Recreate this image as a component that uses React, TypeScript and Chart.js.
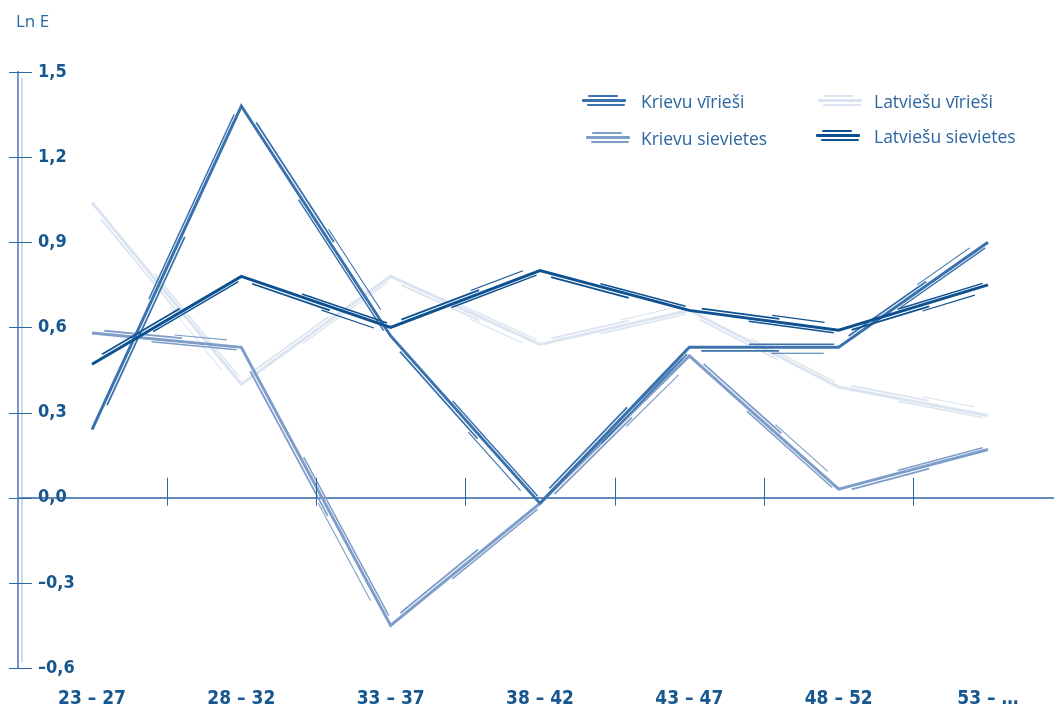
import React, { useEffect, useRef } from "react";
import { Chart, registerables } from "chart.js";

Chart.register(...registerables);

const categories = ["23 – 27", "28 – 32", "33 – 37", "38 – 42", "43 – 47", "48 – 52", "53 – …"];
const yTicks = [-0.6, -0.3, 0, 0.3, 0.6, 0.9, 1.2, 1.5];

const krievuVirieSi = [0.24, 1.38, 0.57, -0.02, 0.53, 0.53, 0.9];
const krievuSievietes = [0.58, 0.53, -0.45, -0.02, 0.5, 0.03, 0.17];
const latviesuVirieSi = [1.04, 0.4, 0.78, 0.54, 0.66, 0.39, 0.29];
const latviesuSievietes = [0.47, 0.78, 0.6, 0.8, 0.66, 0.59, 0.75];

const seriesNames = ["Krievu vīrieši", "Krievu sievietes", "Latviešu vīrieši", "Latviešu sievietes"];
const seriesColors = ["#3a72ad", "#7e9dc9", "#dbe4f0", "#0e5191"];
const seriesValues = [krievuVirieSi, krievuSievietes, latviesuVirieSi, latviesuSievietes];
const seriesOrder = [2, 3, 4, 1];

const LABEL_COLOR = "#17578f";
const TEXT_COLOR = "#2b66a1";
const LABEL_FONT = "'DejaVu Sans Condensed', 'Roboto', sans-serif";

const sketchPlugin = {
  id: "sketch",
  afterDatasetDraw(chart: any, args: any) {
    const meta = args.meta;
    const ds = chart.data.datasets[args.index];
    const pts = meta.data;
    const ctx = chart.ctx;
    ctx.save();
    ctx.strokeStyle = ds.borderColor;
    ctx.lineCap = "butt";
    const pattern = [
      [3.5, 0.08, 0.6, 1.8],
      [-3, 0.4, 0.97, 1.5],
      [6, 0.55, 0.9, 1.1],
    ];
    for (let j = 0; j < pts.length - 1; j++) {
      const a = pts[j];
      const b = pts[j + 1];
      const dx = b.x - a.x;
      const dy = b.y - a.y;
      const len = Math.hypot(dx, dy) || 1;
      const nx = -dy / len;
      const ny = dx / len;
      pattern.forEach((p, k) => {
        if ((j + k + args.index) % 3 === 2 && k === 2) return;
        const off = p[0] * ((j + args.index) % 2 === 0 ? 1 : -1);
        const t0 = p[1];
        const t1 = p[2];
        ctx.lineWidth = p[3];
        ctx.beginPath();
        ctx.moveTo(a.x + dx * t0 + nx * off, a.y + dy * t0 + ny * off);
        ctx.lineTo(a.x + dx * t1 + nx * off, a.y + dy * t1 + ny * off);
        ctx.stroke();
      });
    }
    ctx.restore();
  },
};

const axisDecorPlugin = {
  id: "axisDecor",
  afterDraw(chart: any) {
    const ctx = chart.ctx;
    const ys = chart.scales.y;
    const xs = chart.scales.x;
    const left = chart.chartArea.left;
    ctx.save();
    ctx.strokeStyle = "#9fb6d6";
    ctx.lineWidth = 1;
    ctx.beginPath();
    ctx.moveTo(left + 4, ys.getPixelForValue(1.48));
    ctx.lineTo(left + 4, ys.getPixelForValue(-0.58));
    ctx.stroke();
    ctx.strokeStyle = "#2d66a0";
    ctx.lineWidth = 1;
    yTicks.forEach((v) => {
      const y = Math.round(ys.getPixelForValue(v)) + 0.5;
      ctx.beginPath();
      ctx.moveTo(left - 9, y);
      ctx.lineTo(left + 14, y);
      ctx.stroke();
    });
    const y0 = ys.getPixelForValue(0);
    for (let i = 0; i < categories.length - 1; i++) {
      const x = Math.round((xs.getPixelForValue(i) + xs.getPixelForValue(i + 1)) / 2) + 0.5;
      ctx.beginPath();
      ctx.moveTo(x, y0 - 20);
      ctx.lineTo(x, y0 + 8);
      ctx.stroke();
    }
    ctx.fillStyle = TEXT_COLOR;
    ctx.font = "17px 'Open Sans'";
    ctx.textBaseline = "middle";
    ctx.textAlign = "left";
    ctx.fillText("Ln E", 16, 22);
    ctx.restore();
  },
};

function Swatch({ color }: { color: string }) {
  const bars = [
    { l: 6, t: 0, w: 30, h: 2 },
    { l: 0, t: 4, w: 44, h: 3 },
    { l: 5, t: 9, w: 38, h: 2 },
  ];
  return (
    <div style={{ position: "relative", width: 46, height: 12 }}>
      {bars.map((b, i) => (
        <div
          key={i}
          style={{
            position: "absolute",
            left: b.l,
            top: b.t,
            width: b.w,
            height: b.h,
            background: color,
            borderRadius: 1,
          }}
        />
      ))}
    </div>
  );
}

export default function App() {
  const canvasRef = useRef<HTMLCanvasElement | null>(null);

  useEffect(() => {
    const canvas = canvasRef.current;
    if (!canvas) return;
    const chart = new Chart(canvas, {
      type: "line",
      data: {
        datasets: seriesValues.map((vals, k) => ({
          label: seriesNames[k],
          data: vals.map((v, i) => ({ x: i, y: v })),
          borderColor: seriesColors[k],
          backgroundColor: seriesColors[k],
          borderWidth: 3,
          pointRadius: 0,
          tension: 0,
          order: seriesOrder[k],
        })),
      },
      options: {
        animation: false,
        responsive: true,
        maintainAspectRatio: false,
        layout: { padding: { left: 8, top: 72, right: 0, bottom: 0 } },
        plugins: {
          legend: { display: false },
          tooltip: { enabled: false },
          title: { display: false },
        },
        scales: {
          x: {
            type: "linear",
            min: -0.4955,
            max: 6.442,
            afterBuildTicks: (scale: any) => {
              scale.ticks = categories.map((_, i) => ({ value: i }));
            },
            afterFit: (scale: any) => {
              scale.height = 45;
            },
            ticks: {
              autoSkip: false,
              maxRotation: 0,
              padding: 20,
              color: LABEL_COLOR,
              font: { family: LABEL_FONT, size: 19, weight: "bold" },
              callback: (v: any) => categories[Math.round(Number(v))] ?? "",
            },
            grid: { display: false, drawTicks: false },
            border: { display: false },
          },
          y: {
            min: -0.6,
            max: 1.5,
            afterBuildTicks: (scale: any) => {
              scale.ticks = yTicks.map((v) => ({ value: v }));
            },
            afterFit: (scale: any) => {
              scale.width = 10;
            },
            ticks: {
              mirror: true,
              padding: 20,
              color: LABEL_COLOR,
              font: { family: LABEL_FONT, size: 18, weight: "bold" },
              callback: (v: any) => {
                const n = Number(v);
                const s = Math.abs(n).toFixed(1).replace(".", ",");
                return n < -0.001 ? "–" + s : s;
              },
            },
            grid: {
              drawTicks: true,
              tickLength: 10,
              tickColor: "rgba(0,0,0,0)",
              lineWidth: 2,
              color: (c: any) => (c.tick && Math.abs(c.tick.value) < 1e-6 ? "#5f8abc" : "rgba(0,0,0,0)"),
            },
            border: { display: true, color: "#7797c4", width: 2 },
          },
        },
      },
      plugins: [sketchPlugin, axisDecorPlugin],
    });
    return () => chart.destroy();
  }, []);

  const legendPos = [
    { sx: 582, tx: 641, y: 101 },
    { sx: 586, tx: 641, y: 138 },
    { sx: 818, tx: 874, y: 101 },
    { sx: 816, tx: 874, y: 136 },
  ];

  return (
    <div style={{ position: "absolute", left: 0, top: 0, width: 1054, height: 713, background: "#fff" }}>
      <canvas ref={canvasRef} />
      {seriesNames.map((name, k) => (
        <React.Fragment key={name}>
          <div style={{ position: "absolute", left: legendPos[k].sx, top: legendPos[k].y - 6 }}>
            <Swatch color={seriesColors[k]} />
          </div>
          <div
            style={{
              position: "absolute",
              left: legendPos[k].tx,
              top: legendPos[k].y - 12,
              fontFamily: "'Open Sans', sans-serif",
              fontSize: 17.5,
              lineHeight: "24px",
              color: TEXT_COLOR,
              whiteSpace: "nowrap",
            }}
          >
            {name}
          </div>
        </React.Fragment>
      ))}
    </div>
  );
}
